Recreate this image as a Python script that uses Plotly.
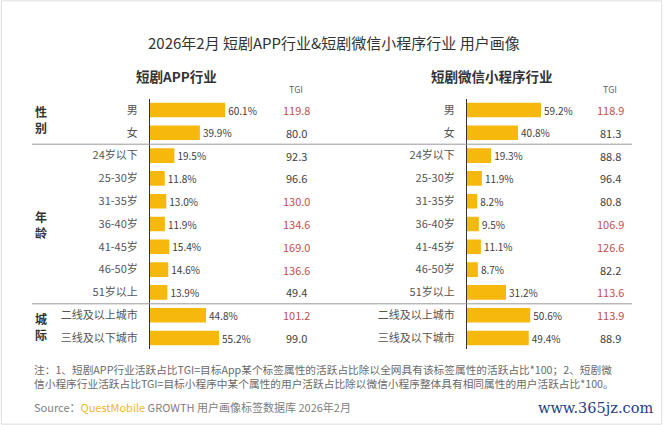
import plotly.graph_objects as go

categories = ["男", "女", "24岁以下", "25-30岁", "31-35岁", "36-40岁", "41-45岁",
              "46-50岁", "51岁以上", "二线及以上城市", "三线及以下城市"]
app_share = [60.1, 39.9, 19.5, 11.8, 13.0, 11.9, 15.4, 14.6, 13.9, 44.8, 55.2]
app_tgi = [119.8, 80.0, 92.3, 96.6, 130.0, 134.6, 169.0, 136.6, 49.4, 101.2, 99.0]
mini_share = [59.2, 40.8, 19.3, 11.9, 8.2, 9.5, 11.1, 8.7, 31.2, 50.6, 49.4]
mini_tgi = [118.9, 81.3, 88.8, 96.4, 80.8, 106.9, 126.6, 82.2, 113.6, 113.9, 88.9]
groups = [("性<br>别", 0.4), ("年<br>龄", 5.0), ("城<br>际", 9.5)]

W, H = 663, 425
FONT = "Noto Sans CJK SC"
BAR = "#F7B80E"
RED = "#C0504D"
TXT = "#404040"

fig = go.Figure()


def px(x):
    return x / W


def py(y):
    return 1 - y / H


row_top, row_bot = 98.6, 349.4
ydom = [py(row_bot), py(row_top)]
xrange_ = [0, 144]

panels = [
    ("x", "y", app_share, app_tgi, 296),
    ("x2", "y2", mini_share, mini_tgi, 610),
]

for xa, ya, share, tgi, tgi_x in panels:
    fig.add_trace(go.Bar(
        x=share, y=categories, orientation="h", xaxis=xa, yaxis=ya,
        marker=dict(color=BAR, line=dict(width=0)),
        text=[f"{v:.1f}%" for v in share], textposition="outside",
        textfont=dict(size=11, color=TXT, family=FONT), cliponaxis=False,
        hoverinfo="skip", showlegend=False,
    ))
    for c, v in zip(categories, tgi):
        fig.add_annotation(
            x=px(tgi_x), xref="paper", y=c, yref=ya, text=f"{v:.1f}",
            showarrow=False, xanchor="center", yanchor="middle",
            font=dict(size=11, color=RED if v > 100 else TXT, family=FONT),
        )

axis_common = dict(range=xrange_, showgrid=False, zeroline=False,
                   showticklabels=False, showline=False, fixedrange=True)
yaxis_common = dict(autorange="reversed", showgrid=False, zeroline=False,
                    showline=True, linecolor="#333333", linewidth=1,
                    ticks="", ticklabelstandoff=9, domain=ydom,
                    tickfont=dict(size=11, color="#555555", family=FONT))

fig.update_layout(
    width=W, height=H, margin=dict(l=0, r=0, t=0, b=0),
    paper_bgcolor="white", plot_bgcolor="rgba(0,0,0,0)",
    bargap=0.36,
    xaxis=dict(domain=[px(150), px(330)], anchor="y", **axis_common),
    yaxis=dict(anchor="x", **yaxis_common),
    xaxis2=dict(domain=[px(467), px(647)], anchor="y2", **axis_common),
    yaxis2=dict(anchor="x2", **yaxis_common),
    font=dict(family=FONT),
)

# group labels
for label, yv in groups:
    fig.add_annotation(x=px(41), xref="paper", y=yv, yref="y", text=f"<b>{label}</b>",
                       showarrow=False, font=dict(size=12, color="#333333", family=FONT),
                       xanchor="center", yanchor="middle")

# separator lines
for yv in [1.5, 8.5]:
    fig.add_shape(type="line", xref="paper", yref="y", x0=px(32), x1=px(632),
                  y0=yv, y1=yv, line=dict(color="#9a9a9a", width=1))


def label(x, y, text, size, color, xanchor="center", **kw):
    fig.add_annotation(x=px(x), y=py(y), xref="paper", yref="paper", text=text,
                       showarrow=False, xanchor=xanchor, yanchor="middle",
                       font=dict(size=size, color=color, family=kw.pop("family", FONT)), **kw)


label(334, 42, "2026年2月 短剧APP行业&短剧微信小程序行业 用户画像", 15, "#333333")
label(176, 76, "<b>短剧APP行业</b>", 13.5, "#333333")
label(492, 76, "<b>短剧微信小程序行业</b>", 13.5, "#333333")
for tx in [296, 610]:
    label(tx, 89, "TGI", 9, "#666666")

note_lines = ["注：1、短剧APP行业活跃占比TGI=目标App某个标签属性的活跃占比除以全网具有该标签属性的活跃占比*100；2、短剧微",
              "信小程序行业活跃占比TGI=目标小程序中某个属性的用户活跃占比除以微信小程序整体具有相同属性的用户活跃占比*100。"]
for ny, line in zip([369, 383], note_lines):
    label(32, ny, line, 10.7, "#6a6a6a", xanchor="left")
label(32, 407, "Source：<span style='color:#EDBA1E'>QuestMobile</span> GROWTH 用户画像标签数据库 2026年2月",
      11, "#808080", xanchor="left")
label(655, 408, "www.365jz.com", 14.5, "#1F3C85", xanchor="right", family="DejaVu Serif")

# frame
fig.add_shape(type="rect", xref="paper", yref="paper", x0=0.002, x1=0.998, y0=0.002, y1=0.998,
              line=dict(color="#dddddd", width=1))

fig.write_html("out.html", config={"displayModeBar": False},
               post_script="document.body.style.margin='0';")
